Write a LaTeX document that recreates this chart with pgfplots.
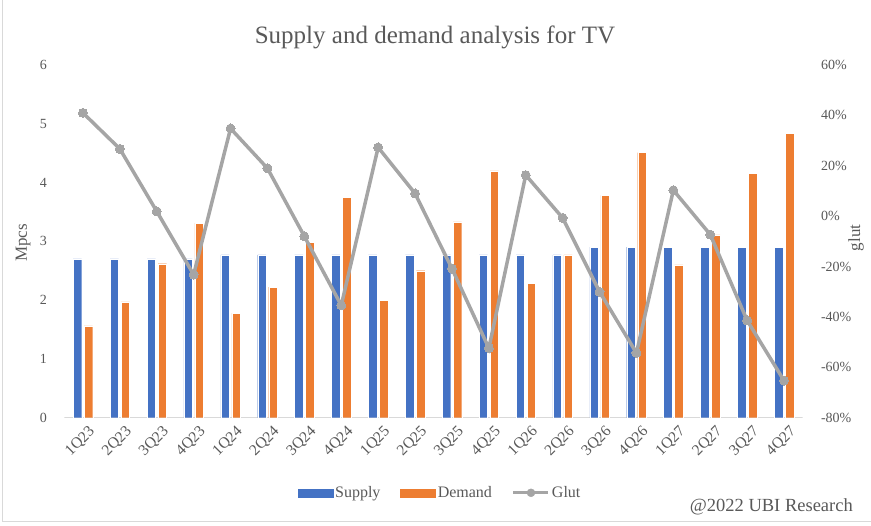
\documentclass[border=0pt]{standalone}
\usepackage{fontspec}
\setmainfont{Liberation Serif}
\usepackage{pgfplots}
\pgfplotsset{compat=1.18}
\usepackage{pgfplotstable}
\definecolor{supplyc}{HTML}{4472C4}
\definecolor{demandc}{HTML}{ED7D31}
\definecolor{glutc}{HTML}{A5A5A5}
\definecolor{txtc}{HTML}{595959}
\definecolor{axc}{HTML}{D9D9D9}

\pgfplotstableread{
x cat  supply demand glut
0  1Q23 2.70 1.56 41.0
1  2Q23 2.70 1.97 26.7
2  3Q23 2.70 2.62 1.9
3  4Q23 2.70 3.31 -23.2
4  1Q24 2.77 1.78 34.8
5  2Q24 2.77 2.22 19.0
6  3Q24 2.77 2.98 -8.0
7  4Q24 2.77 3.75 -35.4
8  1Q25 2.77 2.00 27.3
9  2Q25 2.77 2.50 9.0
10 3Q25 2.77 3.33 -20.8
11 4Q25 2.77 4.20 -52.4
12 1Q26 2.77 2.29 16.3
13 2Q26 2.77 2.77 -0.7
14 3Q26 2.90 3.78 -30.0
15 4Q26 2.90 4.51 -54.3
16 1Q27 2.90 2.60 10.3
17 2Q27 2.90 3.11 -7.3
18 3Q27 2.90 4.16 -41.4
19 4Q27 2.90 4.84 -65.3
}\datatable

\begin{document}
\begin{tikzpicture}
\pgfplotsset{
  base/.style={
    scale only axis, width=738pt, height=352.7pt,
    at={(0pt,0pt)}, anchor=south west,
    xmin=-0.5, xmax=19.5,
    axis line style={draw=none},
    major tick length=0pt,
    tick label style={font=\fontsize{14}{16}\selectfont, text=txtc},
    /pgf/number format/assume math mode=true,
  }
}
\begin{axis}[base,
  ymin=0, ymax=6, ytick={0,...,6},
  xtick={0,...,19},
  xticklabels={1Q23,2Q23,3Q23,4Q23,1Q24,2Q24,3Q24,4Q24,1Q25,2Q25,3Q25,4Q25,1Q26,2Q26,3Q26,4Q26,1Q27,2Q27,3Q27,4Q27},
  x tick label style={font=\fontsize{15.5}{17}\selectfont, rotate=45, anchor=east, xshift=2pt, yshift=-15pt},
  yticklabel style={xshift=-14pt},
  ybar=2.5pt, bar width=8.5pt,
  legend style={at={(0.509,-0.213)}, anchor=center, draw=none, fill=none,
    font=\fontsize{16}{18}\selectfont, text=txtc, legend columns=3,
    /tikz/every even column/.append style={column sep=18pt},
    legend cell align=left},
]
\draw[axc, line width=1pt] (axis cs:-0.5,0) -- (axis cs:19.5,0);
\addplot[fill=supplyc, draw=white, line width=0.3pt,
  legend image code/.code={\fill[supplyc] (0pt,-4pt) rectangle (35pt,4pt);}] table[x=x, y=supply] {\datatable};
\addlegendentry{Supply}
\addplot[fill=demandc, draw=white, line width=0.3pt,
  legend image code/.code={\fill[demandc] (0pt,-4pt) rectangle (35pt,4pt);}] table[x=x, y=demand] {\datatable};
\addlegendentry{Demand}
\addlegendimage{legend image code/.code={\draw[glutc, line width=3pt] (0pt,0pt) -- (35pt,0pt); \fill[glutc] (17.5pt,0pt) circle (4pt);}}
\addlegendentry{Glut}
\end{axis}
\begin{axis}[base,
  ymin=-80, ymax=60, ytick={-80,-60,...,60},
  xtick=\empty,
  axis y line*=right,
  yticklabel={\pgfmathprintnumber{\tick}\%},
  yticklabel style={xshift=15pt},
]
\addplot[glutc, line width=3.5pt, mark=*, mark size=4.5pt, mark options={fill=glutc, draw=glutc, line width=0pt}] table[x=x, y=glut] {\datatable};
\end{axis}
\node[font=\fontsize{25}{28}\selectfont, text=txtc] at (370.5pt,380pt) {Supply and demand analysis for TV};
\node[font=\fontsize{17}{19}\selectfont, text=txtc, rotate=90] at (-41.5pt,174.7pt) {Mpcs};
\node[font=\fontsize{17}{19}\selectfont, text=txtc, rotate=90] at (791.5pt,179.7pt) {glut};
\node[font=\fontsize{18.5}{20}\selectfont, text=txtc, anchor=east, inner sep=0pt] at (788.5pt,-88.8pt) {@2022 UBI Research};
\draw[axc, line width=1pt] (-62pt,417.7pt) -- (-62pt,-104.3pt) -- (806.5pt,-104.3pt);
\pgfresetboundingbox
\useasboundingbox (-64.5pt,-108.3pt) rectangle (806.5pt,417.7pt);
\end{tikzpicture}
\end{document}
